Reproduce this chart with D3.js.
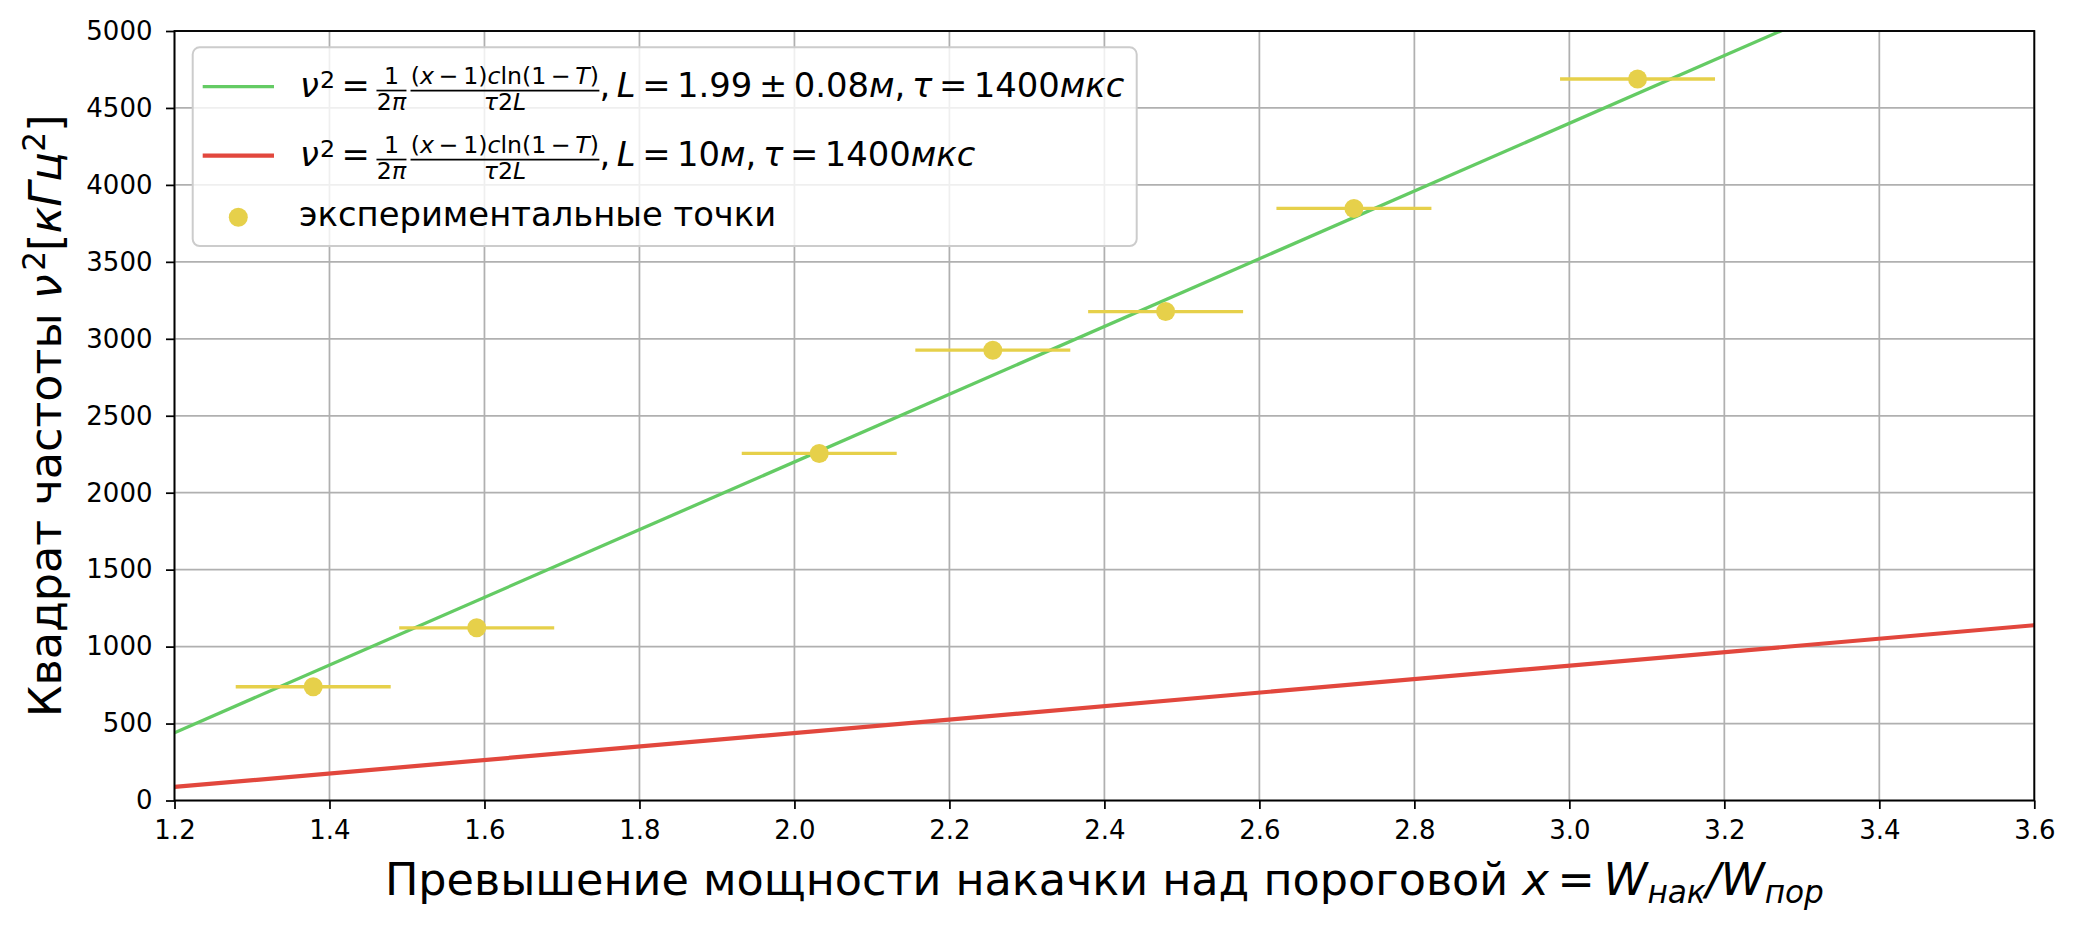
<!DOCTYPE html>
<html>
<head>
<meta charset="utf-8">
<script src="https://cdn.jsdelivr.net/npm/d3@7"></script>
<style>
  body { margin: 0; background: #fff; }
  text { font-family: "DejaVu Sans", sans-serif; fill: #000; white-space: pre; }
</style>
</head>
<body>
<svg id="canvas" width="2077" height="930"></svg>
<script>
// data
var xTicks = [1.2, 1.4, 1.6, 1.8, 2.0, 2.2, 2.4, 2.6, 2.8, 3.0, 3.2, 3.4, 3.6];
var yTicks = [0, 500, 1000, 1500, 2000, 2500, 3000, 3500, 4000, 4500, 5000];

var pumpX   = [1.379, 1.590, 2.032, 2.256, 2.479, 2.722, 3.088];
var freqSq  = [739, 1122, 2255, 2926, 3177, 3847, 4688];
var pumpErr = [0.1, 0.1, 0.1, 0.1, 0.1, 0.1, 0.1];

var fitX     = [1.2, 3.6];
var fitGreen = [440, 5720];
var fitRed   = [88, 1139];

var cGreen = "#64cb64", cRed = "#e2473d", cYellow = "#e6d04a";

var svg = d3.select("#canvas");
var m = { left: 174.5, right: 2034.3, top: 31, bottom: 800.5 };

var x = d3.scaleLinear().domain([1.2, 3.6]).range([m.left, m.right]);
var y = d3.scaleLinear().domain([0, 5000]).range([m.bottom, m.top]);

svg.append("defs").append("clipPath").attr("id", "clip")
  .append("rect").attr("x", m.left).attr("y", m.top)
  .attr("width", m.right - m.left).attr("height", m.bottom - m.top);

// grid
var grid = svg.append("g").attr("stroke", "#b0b0b0").attr("stroke-width", 1.75);
grid.selectAll(".gx").data(xTicks).enter().append("line")
  .attr("x1", d => x(d)).attr("x2", d => x(d)).attr("y1", m.top).attr("y2", m.bottom);
grid.selectAll(".gy").data(yTicks).enter().append("line")
  .attr("y1", d => y(d)).attr("y2", d => y(d)).attr("x1", m.left).attr("x2", m.right);

// fit lines
var plot = svg.append("g").attr("clip-path", "url(#clip)");
var line = d3.line().x(d => x(d[0])).y(d => y(d[1]));
plot.append("path").datum(d3.zip(fitX, fitGreen)).attr("d", line)
  .attr("fill", "none").attr("stroke", cGreen).attr("stroke-width", 3.3);
plot.append("path").datum(d3.zip(fitX, fitRed)).attr("d", line)
  .attr("fill", "none").attr("stroke", cRed).attr("stroke-width", 4.2);

// error bars + points
var pts = d3.range(pumpX.length);
plot.selectAll(".err").data(pts).enter().append("line")
  .attr("x1", i => x(pumpX[i] - pumpErr[i])).attr("x2", i => x(pumpX[i] + pumpErr[i]))
  .attr("y1", i => y(freqSq[i])).attr("y2", i => y(freqSq[i]))
  .attr("stroke", cYellow).attr("stroke-width", 3.3);
plot.selectAll(".pt").data(pts).enter().append("circle")
  .attr("cx", i => x(pumpX[i])).attr("cy", i => y(freqSq[i])).attr("r", 9.5)
  .attr("fill", cYellow);

// axes
var xAxis = svg.append("g").attr("transform", "translate(0," + m.bottom + ")")
  .call(d3.axisBottom(x).tickValues(xTicks).tickFormat(d3.format(".1f"))
    .tickSize(8.5).tickPadding(12).tickSizeOuter(0));
var yAxis = svg.append("g").attr("transform", "translate(" + m.left + ",0)")
  .call(d3.axisLeft(y).tickValues(yTicks).tickFormat(d3.format("d"))
    .tickSize(8.5).tickPadding(13.5).tickSizeOuter(0));
[xAxis, yAxis].forEach(function (a) {
  a.select(".domain").remove();
  a.selectAll(".tick line").attr("stroke", "#000").attr("stroke-width", 1.75);
  a.selectAll(".tick text").attr("font-size", 26).attr("font-family", "DejaVu Sans").attr("fill", "#000");
});

svg.append("rect").attr("x", m.left).attr("y", m.top)
  .attr("width", m.right - m.left).attr("height", m.bottom - m.top)
  .attr("fill", "none").attr("stroke", "#000").attr("stroke-width", 1.9);

// small mathtext-like typesetter: {t} text, {gap} em space, {frac:[num, den]} stacked fraction
function typeset(g, parts, F, x0, y0) {
  var cx = x0;
  parts.forEach(function (p) {
    if (p.gap !== undefined) { cx += p.gap * F; return; }
    if (p.frac) {
      var fs = F * 0.7;
      var num = g.append("g"), den = g.append("g");
      var wn = typeset(num, p.frac[0], fs, 0, 0);
      var wd = typeset(den, p.frac[1], fs, 0, 0);
      var w = Math.max(wn, wd) + 0.02 * F;
      var bar = y0 - 0.2 * F;
      num.attr("transform", "translate(" + (cx + (w - wn) / 2) + "," + (bar - 0.19 * F) + ")");
      den.attr("transform", "translate(" + (cx + (w - wd) / 2) + "," + (bar + 0.59 * F) + ")");
      g.append("line").attr("x1", cx).attr("x2", cx + w).attr("y1", bar).attr("y2", bar)
        .attr("stroke", "#000").attr("stroke-width", 0.05 * F);
      cx += w;
      return;
    }
    var fs = F * (p.s || 1);
    var t = g.append("text").attr("x", cx).attr("y", y0 + (p.dy || 0) * F)
      .attr("font-size", fs).text(p.t);
    if (p.it) t.attr("font-style", "italic");
    cx += t.node().getComputedTextLength();
  });
  return cx - x0;
}

// mathtext puts 0.2 of an italic "m" around relations / binary ops and after commas
var S = { gap: 0.195 };
var fracA = { frac: [[{ t: "1" }], [{ t: "2" }, { t: "π", it: true }]] };
var fracB = { frac: [[{ t: "(" }, { t: "x", it: true }, S, { t: "−" }, S, { t: "1)" },
                      { t: "c", it: true }, { t: "ln(1" }, S, { t: "−" }, S,
                      { t: "T", it: true }, { t: ")" }],
                     [{ t: "τ", it: true }, { t: "2" }, { t: "L", it: true }]] };
var head = [{ t: "ν", it: true }, { gap: 0.03 }, { t: "2", s: 0.7, dy: -0.27 }, S, { t: "=" }, S,
            fracA, { gap: 0.12 }, fracB, { t: "," }, S, { t: "L", it: true }, S, { t: "=" }, S];
var tail = [{ t: "," }, S, { t: "τ", it: true }, S, { t: "=" }, S, { t: "1400" }, { t: "мкс", it: true }];
var row1 = head.concat([{ t: "1.99" }, S, { t: "±" }, S, { t: "0.08" }, { t: "м", it: true }], tail);
var row2 = head.concat([{ t: "10" }, { t: "м", it: true }], tail);

// legend
var FS = 33.8;
var lg = svg.append("g");
lg.append("rect").attr("x", 192.7).attr("y", 47.3).attr("width", 1136.7 - 192.7).attr("height", 246 - 47.3)
  .attr("rx", 7).attr("fill", "#fff").attr("fill-opacity", 0.8)
  .attr("stroke", "#cccccc").attr("stroke-width", 2);
lg.append("line").attr("x1", 202.7).attr("x2", 274).attr("y1", 86.7).attr("y2", 86.7)
  .attr("stroke", cGreen).attr("stroke-width", 3.3);
lg.append("line").attr("x1", 202.7).attr("x2", 274).attr("y1", 155.7).attr("y2", 155.7)
  .attr("stroke", cRed).attr("stroke-width", 4.2);
lg.append("circle").attr("cx", 238.3).attr("cy", 217.3).attr("r", 9.5).attr("fill", cYellow);
typeset(lg.append("g"), row1, FS, 300, 97.3);
typeset(lg.append("g"), row2, FS, 300, 166.3);
lg.append("text").attr("x", 299).attr("y", 225.7).attr("font-size", FS).text("экспериментальные точки");

// x label
var FL = 44.5;
var xl = svg.append("g");
var xw = typeset(xl, [{ t: "Превышение мощности накачки над пороговой\u00a0" }, { t: "x", it: true }, S, { t: "=" }, S,
  { t: "W", it: true }, { t: "нак", it: true, s: 0.7, dy: 0.17 }, { t: "/", it: true },
  { t: "W", it: true }, { t: "пор", it: true, s: 0.7, dy: 0.17 }], FL, 0, 895);
xl.attr("transform", "translate(" + ((m.left + m.right) / 2 - xw / 2) + ",0)");

// y label
var yl = svg.append("g");
var yw = typeset(yl, [{ t: "Квадрат частоты\u00a0" }, { t: "ν", it: true }, { gap: 0.08 }, { t: "2", s: 0.7, dy: -0.35 }, { t: "[" },
  { t: "кГц", it: true }, { t: "2", s: 0.7, dy: -0.35 }, { t: "]" }], FL, 0, 0);
yl.attr("transform", "translate(61," + ((m.top + m.bottom) / 2) + ") rotate(-90) translate(" + (-yw / 2) + ",0)");
</script>
</body>
</html>
